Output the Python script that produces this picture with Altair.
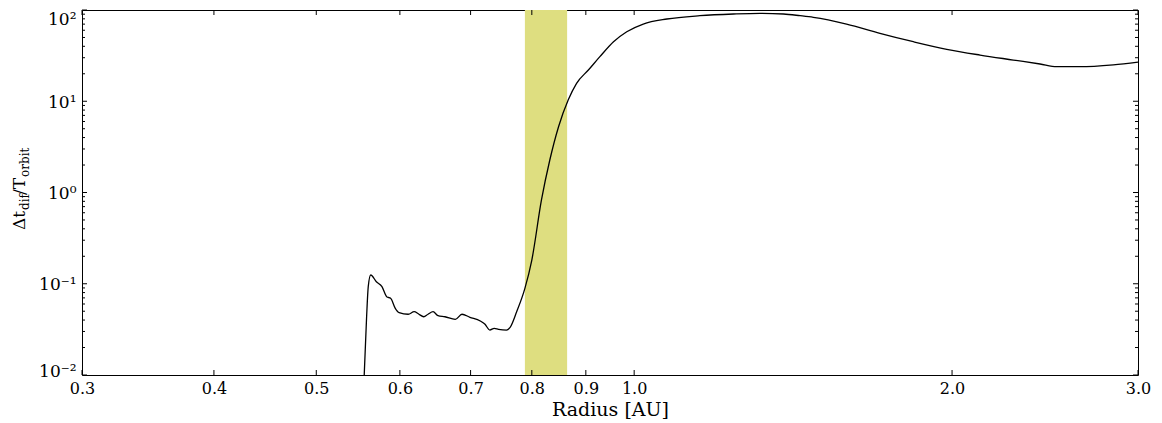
import altair as alt
import pandas as pd

# ---- data ----
radius = [0.555, 0.558, 0.560, 0.563, 0.570, 0.577, 0.583, 0.588, 0.594, 0.599,
          0.611, 0.619, 0.625, 0.632, 0.638, 0.645, 0.652, 0.662, 0.677, 0.687,
          0.699, 0.715, 0.722, 0.730, 0.737, 0.744, 0.757, 0.763, 0.774, 0.788,
          0.800, 0.817, 0.832, 0.848, 0.866, 0.882, 0.905, 0.928, 0.956, 0.984,
          1.020, 1.074, 1.154, 1.242, 1.316, 1.385, 1.436, 1.478, 1.589, 1.709,
          1.838, 1.977, 2.126, 2.286, 2.423, 2.513, 2.643, 2.843, 3.0]
dt_ratio = [0.0095, 0.0435, 0.0929, 0.1247, 0.1052, 0.0929, 0.0721, 0.0693, 0.0538, 0.0482,
            0.0463, 0.0494, 0.0466, 0.0435, 0.0463, 0.0494, 0.0447, 0.0435, 0.0407, 0.0463,
            0.0429, 0.0391, 0.0362, 0.0311, 0.0325, 0.0317, 0.0311, 0.0333, 0.0494, 0.0891,
            0.182, 0.828, 2.27, 5.26, 10.3, 15.7, 22.0, 30.8, 44.9, 57.8,
            70.2, 79.7, 86.6, 90.4, 92.0, 90.4, 86.6, 83.2, 70.2, 55.5,
            44.9, 37.1, 32.1, 28.3, 25.6, 23.9, 23.9, 25.1, 26.9]

band_lo = [0.788]
band_hi = [0.864]

x_ticks = [0.3, 0.4, 0.5, 0.6, 0.7, 0.8, 0.9, 1.0, 2.0, 3.0]
y_major = [0.01, 0.1, 1, 10, 100]
y_labels = ["10⁻²", "10⁻¹", "10⁰", "10¹", "10²"]
y_minor = [0.02, 0.03, 0.04, 0.05, 0.06, 0.07, 0.08, 0.09,
           0.2, 0.3, 0.4, 0.5, 0.6, 0.7, 0.8, 0.9,
           2, 3, 4, 5, 6, 7, 8, 9,
           20, 30, 40, 50, 60, 70, 80, 90]

W, H = 1056, 365
FONT = "DejaVu Serif"

xscale = alt.Scale(type="log", domain=[0.3, 3.0], nice=False)
yscale = alt.Scale(type="log", domain=[0.01, 100], nice=False)

label_expr = " : ".join(
    f"datum.value == {v} ? '{l}'" for v, l in zip(y_major, y_labels)
) + " : ''"

x_axis = alt.Axis(values=x_ticks, format=".1f", title="Radius [AU]",
                  ticks=False, domain=False, grid=False,
                  labelPadding=5, titlePadding=4, labelFontSize=16,
                  titleFontSize=19, labelFlush=False, labelOverlap=False)
y_axis = alt.Axis(values=y_major, labelExpr=label_expr, title="",
                  ticks=False, domain=False, grid=False,
                  labelPadding=6, labelFontSize=17,
                  labelBaseline={"condition": {"test": "datum.value >= 100", "value": "top"},
                                 "value": "middle"},
                  labelOffset={"condition": {"test": "datum.value <= 0.01", "value": -4},
                               "value": 1},
                  labelOverlap=False)

df = pd.DataFrame({"r": radius, "v": dt_ratio})

band = alt.Chart(pd.DataFrame({"lo": band_lo, "hi": band_hi})).mark_rect(
    color="#DEDE80"
).encode(
    x=alt.X("lo:Q", scale=xscale, axis=x_axis),
    x2="hi:Q",
    y=alt.value(0),
    y2=alt.value(H),
)

line = alt.Chart(df).mark_line(
    color="black", strokeWidth=1.3, interpolate="monotone", clip=True
).encode(
    x=alt.X("r:Q", scale=xscale, axis=x_axis),
    y=alt.Y("v:Q", scale=yscale, axis=y_axis),
)

xt = pd.DataFrame({"t": x_ticks})
x_bottom = alt.Chart(xt).mark_rule(color="black").encode(
    x=alt.X("t:Q", scale=xscale, axis=x_axis), y=alt.value(H), y2=alt.value(H - 5))
x_top = alt.Chart(xt).mark_rule(color="black").encode(
    x=alt.X("t:Q", scale=xscale, axis=x_axis), y=alt.value(0), y2=alt.value(5))

ym = pd.DataFrame({"t": y_major})
yn = pd.DataFrame({"t": y_minor})
y_left = alt.Chart(ym).mark_rule(color="black").encode(
    y=alt.Y("t:Q", scale=yscale, axis=y_axis), x=alt.value(0), x2=alt.value(5))
y_right = alt.Chart(ym).mark_rule(color="black").encode(
    y=alt.Y("t:Q", scale=yscale, axis=y_axis), x=alt.value(W - 5), x2=alt.value(W))
y_left_m = alt.Chart(yn).mark_rule(color="black").encode(
    y=alt.Y("t:Q", scale=yscale, axis=y_axis), x=alt.value(0), x2=alt.value(3))
y_right_m = alt.Chart(yn).mark_rule(color="black").encode(
    y=alt.Y("t:Q", scale=yscale, axis=y_axis), x=alt.value(W - 3), x2=alt.value(W))

def piece(txt, x, y, size):
    return alt.Chart(pd.DataFrame({"s": [txt]})).mark_text(
        angle=270, align="left", baseline="alphabetic", font=FONT,
        fontSize=size, color="black"
    ).encode(x=alt.value(x), y=alt.value(y), text="s:N")

title_parts = [
    piece("Δt", -57, 220, 17),
    piece("dif", -53, 200, 12),
    piece("/T", -57, 185, 17),
    piece("orbit", -53, 167, 12),
]

chart = alt.layer(
    band, line, x_bottom, x_top, y_left, y_right, y_left_m, y_right_m, *title_parts
).properties(
    width=W, height=H,
    padding={"left": 74, "top": 2, "right": 16, "bottom": 44},
    autosize=alt.AutoSizeParams(type="none"),
).configure_view(
    stroke="black", strokeWidth=1
).configure_axis(
    labelFont=FONT, titleFont=FONT, labelColor="black", titleColor="black",
    titleFontWeight="normal"
)

chart.save("out.html", embed_options={"renderer": "svg", "actions": False})
